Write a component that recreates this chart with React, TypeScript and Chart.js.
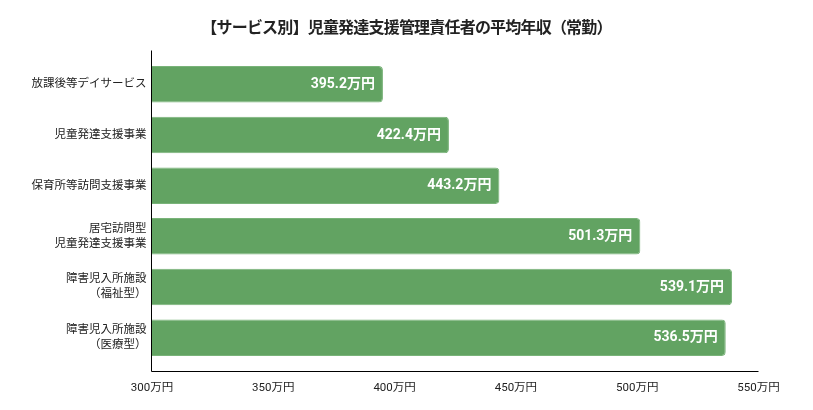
import React, { useEffect, useRef } from 'react';
import { Chart, registerables } from 'chart.js';

Chart.register(...registerables);

const title = '【サービス別】児童発達支援管理責任者の平均年収（常勤）';

const services = [
    ['放課後等デイサービス'],
    ['児童発達支援事業'],
    ['保育所等訪問支援事業'],
    ['居宅訪問型', '児童発達支援事業'],
    ['障害児入所施設', '（福祉型）'],
    ['障害児入所施設', '（医療型）']
];

const salaries = [395.2, 422.4, 443.2, 501.3, 539.1, 536.5];

const axisMin = 300;
const axisMax = 550;
const axisStep = 50;
const unit = '万円';

const barColor = '#62a362';
const barEdge = '#79b379';
const textColor = '#222222';
const fontFamily = "Roboto, 'Noto Sans CJK JP', sans-serif";

// title drawn by hand so it stays centred on the whole canvas
const titleText = {
    id: 'titleText',
    afterDraw(chart) {
        const { ctx } = chart;
        ctx.save();
        ctx.fillStyle = textColor;
        ctx.font = "bold 16px 'Noto Sans CJK JP', sans-serif";
        ctx.letterSpacing = '-0.8px';
        ctx.textAlign = 'center';
        ctx.textBaseline = 'middle';
        ctx.fillText(title, chart.width / 2, 19);
        ctx.restore();
    }
};

// axis lines stick out a little past the category band, like the original
const axisLines = {
    id: 'axisLines',
    afterDatasetsDraw(chart) {
        const { ctx, chartArea } = chart;
        const ext = 8.5;
        ctx.save();
        ctx.strokeStyle = '#000';
        ctx.lineWidth = 1;
        ctx.beginPath();
        ctx.moveTo(chartArea.left - 0.5, chartArea.top - ext);
        ctx.lineTo(chartArea.left - 0.5, chartArea.bottom + ext);
        ctx.lineTo(chartArea.right, chartArea.bottom + ext);
        ctx.stroke();
        ctx.restore();
    }
};

const valueLabels = {
    id: 'valueLabels',
    afterDatasetsDraw(chart) {
        const { ctx } = chart;
        const meta = chart.getDatasetMeta(0);
        ctx.save();
        ctx.fillStyle = '#ffffff';
        ctx.font = `bold 14px ${fontFamily}`;
        ctx.textAlign = 'right';
        ctx.textBaseline = 'middle';
        meta.data.forEach((bar, i) => {
            ctx.fillText(`${salaries[i]}${unit}`, bar.x - 8, bar.y);
        });
        ctx.restore();
    }
};

export default function App() {
    const canvas = useRef(null);

    useEffect(() => {
        const chart = new Chart(canvas.current, {
            type: 'bar',
            data: {
                labels: services,
                datasets: [{
                    label: '平均年収',
                    data: salaries,
                    backgroundColor: barColor,
                    borderColor: barEdge,
                    borderWidth: 1,
                    borderRadius: 4,
                    borderSkipped: 'start',
                    categoryPercentage: 0.8,
                    barPercentage: 0.9
                }]
            },
            options: {
                indexAxis: 'y',
                responsive: true,
                maintainAspectRatio: false,
                animation: false,
                layout: {
                    padding: { left: 0, right: 46.5, top: 51, bottom: 0 }
                },
                scales: {
                    x: {
                        min: axisMin,
                        max: axisMax,
                        grid: { display: false, drawTicks: false },
                        border: { display: false },
                        afterFit(scale) { scale.height = 39; },
                        ticks: {
                            stepSize: axisStep,
                            padding: 18,
                            color: textColor,
                            font: { family: fontFamily, size: 11.5 },
                            callback: (v) => `${v}${unit}`
                        }
                    },
                    y: {
                        grid: { display: false, drawTicks: false },
                        border: { display: false },
                        afterFit(scale) { scale.width = 144; },
                        ticks: {
                            padding: 5.5,
                            color: textColor,
                            font: { family: fontFamily, size: 11.5, lineHeight: '15px' }
                        }
                    }
                },
                plugins: {
                    legend: { display: false },
                    tooltip: { enabled: false },
                    title: { display: false }
                }
            },
            plugins: [titleText, axisLines, valueLabels]
        });
        return () => {
            chart.destroy();
        };
    }, []);

    return (
        <div style={{ height: 394 }}>
            <canvas ref={canvas}></canvas>
        </div>
    );
}
